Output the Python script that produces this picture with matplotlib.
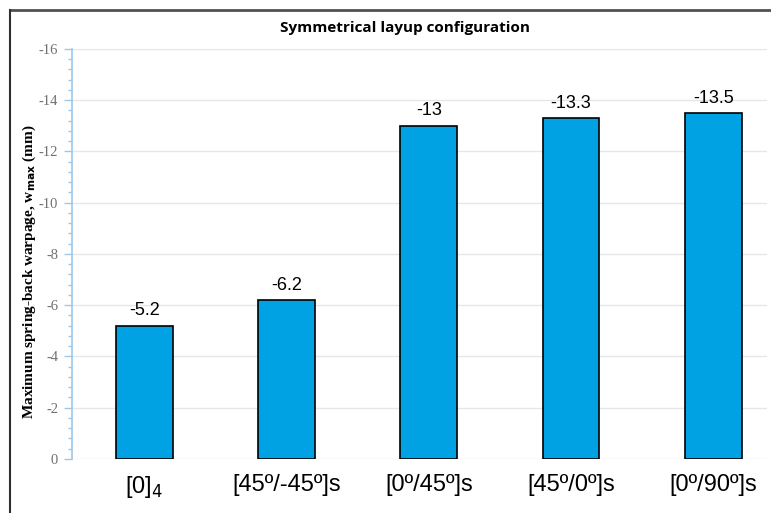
import numpy as np
import matplotlib
matplotlib.use('Agg')
import matplotlib.pyplot as plt
from matplotlib.lines import Line2D
from matplotlib.ticker import MultipleLocator

# chart data
layups = ['[0]$_4$', '[45º/-45º]s', '[0º/45º]s', '[45º/0º]s', '[0º/90º]s']
warpage = [-5.2, -6.2, -13.0, -13.3, -13.5]
value_labels = ['-5.2', '-6.2', '-13', '-13.3', '-13.5']
y_ticks = [0, -2, -4, -6, -8, -10, -12, -14, -16]

BAR_COLOR = '#00A2E3'
AXIS_BLUE = '#9CC8EC'

fig = plt.figure(figsize=(7.71, 5.13), dpi=100)
ax = fig.add_axes([0.0934, 0.1053, 0.9016, 0.7992])

x = np.arange(len(layups))
ax.bar(x, warpage, width=0.4, color=BAR_COLOR, edgecolor='black', linewidth=1.2, zorder=3)

for xi, v, lab in zip(x, warpage, value_labels):
    ax.text(xi, v - 0.25, lab, ha='center', va='bottom', fontsize=13,
            family='Liberation Sans', color='black')

ax.set_xlim(-0.51, 4.38)
ax.set_ylim(0, -16)
ax.set_yticks(y_ticks)
ax.set_yticklabels([str(t) for t in y_ticks], family='Liberation Serif',
                   fontsize=10.5, color='#707070')
ax.yaxis.set_minor_locator(MultipleLocator(0.4))
ax.tick_params(axis='y', which='major', length=6, color=AXIS_BLUE, width=1, pad=4)
ax.tick_params(axis='y', which='minor', length=3, color=AXIS_BLUE, width=1)

ax.set_xticks(x)
ax.set_xticklabels(layups, family='Liberation Sans', fontsize=17)
ax.tick_params(axis='x', length=0, pad=11)

ax.grid(axis='y', color='#E6E6E6', linewidth=1, zorder=0)
for side in ['top', 'right', 'bottom']:
    ax.spines[side].set_visible(False)
ax.spines['left'].set_color(AXIS_BLUE)
ax.spines['left'].set_linewidth(1.2)

ax.set_ylabel('Maximum spring-back warpage, w$_{\\mathbf{max}}$ (mm)',
              family='Liberation Serif', fontweight='bold', fontsize=11)
ax.yaxis.set_label_coords(-0.049, 0.456)

fig.text(0.525, 0.945, 'Symmetrical layup configuration', ha='center', va='center',
         fontsize=11, fontweight='bold', family='Open Sans')

# outer frame lines (top and left)
fig.add_artist(Line2D([10 / 771, 1.0], [1 - 10 / 513, 1 - 10 / 513],
                      transform=fig.transFigure, color='#505050', linewidth=2))
fig.add_artist(Line2D([10 / 771, 10 / 771], [0.0, 1 - 10 / 513],
                      transform=fig.transFigure, color='#303030', linewidth=1.5))

fig.savefig('out.png', dpi=100)
